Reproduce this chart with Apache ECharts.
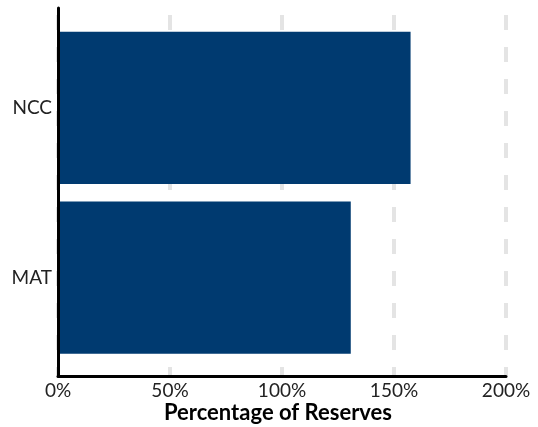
<!DOCTYPE html>
<html>
<head>
<meta charset="utf-8">
<script src="https://cdn.jsdelivr.net/npm/echarts@6/dist/echarts.min.js"></script>
<style>
html,body{margin:0;padding:0;background:#fff;}
#c{width:538px;height:427px;}
</style>
</head>
<body>
<div id="c"></div>
<script>
var categories = ['MAT', 'NCC'];
var values = [130.7, 157.4];
var axisMin = 0, axisMax = 200, axisStep = 50;
var axisTitle = 'Percentage of Reserves';

var FONT = 'Lato';
var chart = echarts.init(document.getElementById('c'), null, {renderer: 'canvas'});
chart.setOption({
  animation: false,
  backgroundColor: '#ffffff',
  title: {
    text: axisTitle,
    left: 273, top: 397, textAlign: 'center',
    textStyle: {fontFamily: FONT, fontWeight: 'bold', fontSize: 22, color: '#000'}
  },
  grid: [
    {left: 58, right: 32, top: 8, bottom: 51},
    {left: 58, right: 32, top: 23, bottom: 64.5}
  ],
  xAxis: [
    {
      gridIndex: 0, type: 'value', min: axisMin, max: axisMax, interval: axisStep,
      axisLine: {show: true, lineStyle: {color: '#000', width: 3}},
      axisTick: {show: false},
      axisLabel: {formatter: '{value}%', color: '#222', fontFamily: FONT, fontSize: 19, margin: 5},
      splitLine: {show: true, lineStyle: {color: '#e4e4e4', width: 4, type: [15, 17], dashOffset: 25}}
    },
    {
      gridIndex: 1, type: 'value', min: axisMin, max: axisMax, interval: axisStep,
      show: false
    }
  ],
  yAxis: [
    {
      gridIndex: 0, type: 'category', data: categories,
      z: 5,
      axisLine: {show: true, lineStyle: {color: '#000', width: 3}},
      axisTick: {show: false}, axisLabel: {show: false}, splitLine: {show: false}
    },
    {
      gridIndex: 1, type: 'category', data: categories,
      axisLine: {show: false}, axisTick: {show: false},
      axisLabel: {color: '#222', fontFamily: FONT, fontSize: 19, margin: 6},
      splitLine: {show: false}
    }
  ],
  series: [{
    type: 'bar', xAxisIndex: 1, yAxisIndex: 1,
    data: values,
    barCategoryGap: '10.4%',
    z: 2,
    itemStyle: {color: '#003A70'}
  }]
});
</script>
</body>
</html>
